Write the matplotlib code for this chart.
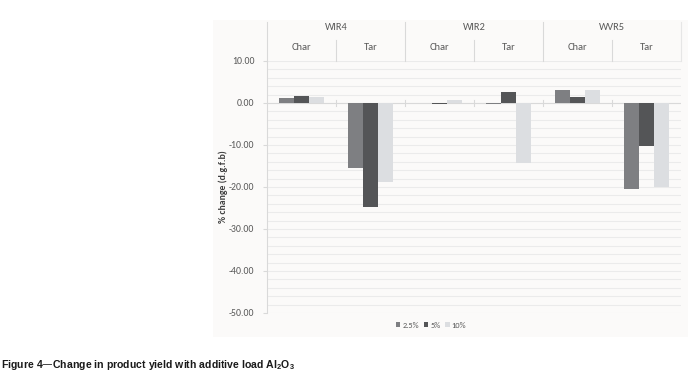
import matplotlib
matplotlib.use("Agg")
import matplotlib.pyplot as plt
from matplotlib.patches import Rectangle
from matplotlib import font_manager
import numpy as np

groups = ["WIR4", "WIR2", "WVR5"]
subcats = ["Char", "Tar"]
series_names = ["2.5%", "5%", "10%"]
vals_25 = [1.1, -15.5, 0.0, -0.2, 3.0, -20.5]
vals_5 = [1.7, -24.7, -0.2, 2.6, 1.4, -10.3]
vals_10 = [1.35, -18.7, 0.7, -14.3, 3.0, -20.1]
yticks = [10, 0, -10, -20, -30, -40, -50]
caption = "Figure 4\u2014Change in product yield with additive load Al$_\\mathregular{2}$O$_\\mathregular{3}$"

colors = ["#7e7f82", "#545557", "#dcdee1"]

weights = {}
for f in font_manager.fontManager.ttflist:
    if f.style == "normal" and f.stretch == "normal":
        w = f.weight if isinstance(f.weight, int) else 400
        weights.setdefault(f.name, set()).add(w)

def pick(cands, default):
    for c in cands:
        ws = weights.get(c, set())
        if any(w >= 600 for w in ws) and any(w <= 500 for w in ws):
            return c
    return default

cap_font = pick(["Liberation Sans Narrow", "Arial Narrow", "Archivo Narrow", "PT Sans Narrow",
                 "Roboto Condensed", "Pragati Narrow", "Open Sans Condensed",
                 "IBM Plex Sans Condensed", "Fira Sans Condensed", "Barlow Semi Condensed",
                 "Encode Sans Condensed"], "Liberation Sans")
body_font = pick(["Carlito", "Calibri"], "Open Sans")
is_carlito = body_font in ("Carlito", "Calibri")
tick_fs = 7.0 if is_carlito else 6.3
head_fs = 7.5 if is_carlito else 6.4
leg_fs = 6.0 if is_carlito else 5.5
ylab_fs = 7.0 if is_carlito else 6.4
cap_fs = 8.0 if cap_font != "Liberation Sans" else 7.6

W, H = 692, 375
fig = plt.figure(figsize=(W / 100, H / 100), dpi=100)
fig.patch.set_facecolor("white")

def fx(px):
    return px / W

def fy(py):
    return 1 - py / H

# chart background
fig.patches.append(Rectangle((fx(213), fy(337)), fx(688) - fx(213), fy(20) - fy(337),
                             transform=fig.transFigure, facecolor="#fbfaf9",
                             edgecolor="none", zorder=-5))

ax = fig.add_axes([fx(267), fy(313), fx(681) - fx(267), fy(61) - fy(313)])
ax.set_zorder(2)
ax.set_facecolor("none")

x = np.arange(len(vals_25))
bw = 0.22
for i, (vals, c) in enumerate(zip([vals_25, vals_5, vals_10], colors)):
    ax.bar(x + (i - 1) * bw, vals, width=bw, color=c, label=series_names[i], zorder=3)

ax.set_xlim(-0.5, len(x) - 0.5)
ax.set_ylim(-50, 10)
ax.set_yticks(yticks)
ax.set_yticklabels([f"{v:.2f}" for v in yticks], fontsize=tick_fs, color="#595959",
                   family=body_font)
ax.set_yticks(np.arange(-50, 11, 2), minor=True)
ax.grid(True, which="both", axis="y", color="#ebebeb", linewidth=0.8, zorder=0)
ax.tick_params(axis="y", which="major", length=3, color="#d9d9d9", pad=6)
ax.tick_params(axis="y", which="minor", length=0)
ax.set_xticks([])
for s in ["top", "right", "bottom"]:
    ax.spines[s].set_visible(False)
ax.spines["left"].set_color("#d9d9d9")
ax.spines["left"].set_linewidth(0.8)

# zero line & category ticks
ax.axhline(0, color="#d9d9d9", linewidth=0.8, zorder=2)
for b in np.arange(0.5, len(x) - 0.5, 1):
    ax.plot([b, b], [-0.7, 0.7], color="#d9d9d9", linewidth=0.8, zorder=2)

# header
y_top, y_mid = 19.3, 15.0
ax.plot([-0.5, -0.5], [10, y_top], color="#d9d9d9", linewidth=0.8, clip_on=False)
for b in [1.5, 3.5]:
    ax.plot([b, b], [10, y_top], color="#d9d9d9", linewidth=0.8, clip_on=False)
for b in [0.5, 2.5, 4.5]:
    ax.plot([b, b], [10, y_mid], color="#d9d9d9", linewidth=0.8, clip_on=False)
ax.plot([5.5, 5.5], [10, y_top], color="#e6e6e6", linewidth=0.8, clip_on=False)
for gi, g in enumerate(groups):
    ax.text(gi * 2 + 0.5, 17.9, g, ha="center", va="center", fontsize=head_fs,
            color="#595959", family=body_font)
    for si, sc in enumerate(subcats):
        ax.text(gi * 2 + si, 13.1, sc, ha="center", va="center", fontsize=head_fs,
                color="#595959", family=body_font)

ax.set_ylabel("% change (d.g.f.b)", fontsize=ylab_fs, color="#404040", family=body_font,
              fontweight="bold", labelpad=1)

leg = fig.legend(loc="center", bbox_to_anchor=(fx(431), fy(325)), ncol=3, frameon=False,
                 handlelength=0.55, handleheight=0.55, handletextpad=0.25,
                 columnspacing=0.55, prop={"family": body_font, "size": leg_fs})
for t in leg.get_texts():
    t.set_color("#595959")

fig.text(fx(1), fy(368), caption, fontsize=cap_fs, fontweight="bold", family=cap_font,
         color="#1a1a1a", ha="left", va="baseline")

fig.savefig("out.png", dpi=100)
